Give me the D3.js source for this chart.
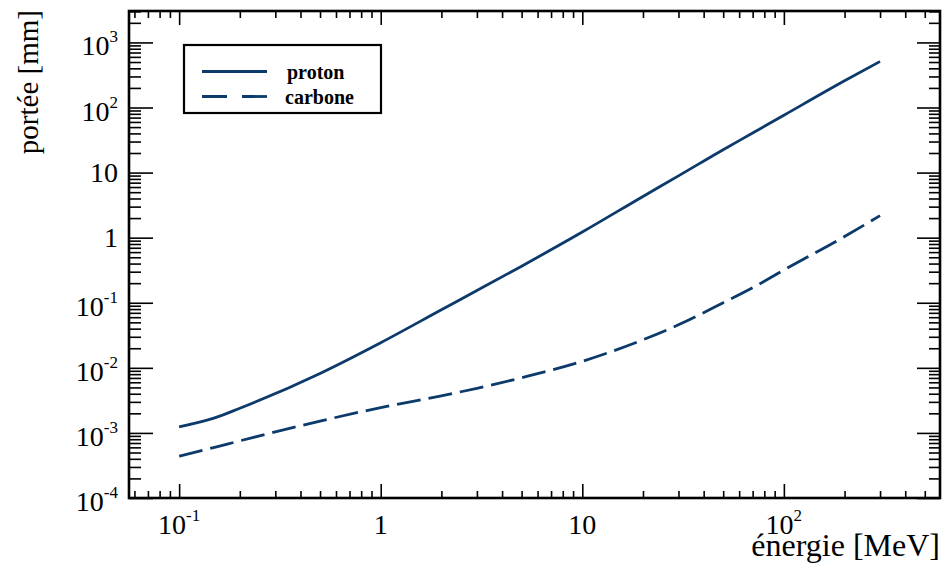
<!DOCTYPE html>
<html>
<head>
<meta charset="utf-8">
<script src="https://cdn.jsdelivr.net/npm/d3@7"></script>
<style>
  body { margin: 0; background: #fff; }
  svg { display: block; }
  text { font-family: "Liberation Serif", "DejaVu Serif", serif; fill: #000; }
</style>
</head>
<body>
<svg id="chart" width="947" height="579"></svg>
<script>
// energie [MeV] et portée [mm]
var energies = [0.1, 0.15, 0.2, 0.5, 1, 2, 3, 5, 10, 20, 30, 50, 70, 100, 200, 300];
var protonRange = [1.24e-3, 1.7e-3, 2.39e-3, 8.2e-3, 0.0243, 0.078, 0.154, 0.365, 1.22, 4.3, 8.9, 22.5, 40.5, 76, 257, 510];
var carbonRange = [4.4e-4, 6.0e-4, 7.55e-4, 1.52e-3, 2.45e-3, 3.72e-3, 4.84e-3, 7.05e-3, 0.0126, 0.027, 0.0458, 0.1, 0.17, 0.319, 1.04, 2.18];

var xMajor = [0.1, 1, 10, 100];
var xLabels = [["10", "-1"], ["1", ""], ["10", ""], ["10", "2"]];
var yMajor = [1e-4, 1e-3, 1e-2, 1e-1, 1, 10, 100, 1000];
var yLabels = [["10", "-4"], ["10", "-3"], ["10", "-2"], ["10", "-1"], ["1", ""], ["10", ""], ["10", "2"], ["10", "3"]];

var seriesNames = ["proton", "carbone"];
var lineColor = "#0c3a6b";

function drawChart() {
    var svg = d3.select("#chart");
    var pLeft = 129, pRight = 940, pTop = 11, pBottom = 498;

    var x = d3.scaleLog().domain([0.0564, 595]).range([pLeft, pRight]);
    var y = d3.scaleLog().domain([1e-4, 3040]).range([pBottom, pTop]);

    function minors(scale) {
        var d = scale.domain(), out = [];
        for (var p = Math.floor(Math.log10(d[0])); p <= Math.ceil(Math.log10(d[1])); p++) {
            for (var k = 2; k <= 9; k++) {
                var v = k * Math.pow(10, p);
                if (v > d[0] && v < d[1]) out.push(v);
            }
        }
        return out;
    }

    // ticks vers l'intérieur sur les quatre côtés
    function drawAxis(axisFn, scale, values, size, tr) {
        svg.append("g")
            .attr("transform", tr)
            .call(axisFn(scale).tickValues(values).tickSize(size).tickFormat(""))
            .call(g => g.select(".domain").remove())
            .call(g => g.selectAll("line").attr("stroke", "#000").attr("stroke-width", 1.6));
    }
    drawAxis(d3.axisBottom, x, xMajor, -14, "translate(0," + pBottom + ")");
    drawAxis(d3.axisBottom, x, minors(x), -7, "translate(0," + pBottom + ")");
    drawAxis(d3.axisTop, x, xMajor, -14, "translate(0," + pTop + ")");
    drawAxis(d3.axisTop, x, minors(x), -7, "translate(0," + pTop + ")");
    drawAxis(d3.axisLeft, y, yMajor, -24, "translate(" + pLeft + ",0)");
    drawAxis(d3.axisLeft, y, minors(y), -12, "translate(" + pLeft + ",0)");
    drawAxis(d3.axisRight, y, yMajor, -23, "translate(" + pRight + ",0)");
    drawAxis(d3.axisRight, y, minors(y), -11, "translate(" + pRight + ",0)");

    svg.append("rect")
        .attr("x", pLeft).attr("y", pTop)
        .attr("width", pRight - pLeft).attr("height", pBottom - pTop)
        .attr("fill", "none").attr("stroke", "#000").attr("stroke-width", 2.6);

    // étiquettes avec exposants
    function label(txt, px, py, anchor) {
        var t = svg.append("text")
            .attr("x", px).attr("y", py)
            .attr("text-anchor", anchor)
            .style("font-size", "28px");
        t.append("tspan").text(txt[0]);
        if (txt[1] != "") {
            t.append("tspan").attr("dy", -13).style("font-size", "17px").text(txt[1]);
        }
    }
    xMajor.forEach((v, i) => label(xLabels[i], x(v), 534, "middle"));
    yMajor.forEach((v, i) => label(yLabels[i], 118, y(v) + (yLabels[i][1] != "" ? 13 : 9), "end"));

    svg.append("text")
        .attr("transform", "translate(38,10) rotate(-90)")
        .attr("text-anchor", "end")
        .style("font-size", "29px")
        .text("portée [mm]");

    svg.append("text")
        .attr("x", 940).attr("y", 556)
        .attr("text-anchor", "end")
        .style("font-size", "32px")
        .text("énergie [MeV]");

    var line = d3.line()
        .x(d => x(d[0]))
        .y(d => y(d[1]))
        .curve(d3.curveMonotoneX);

    svg.append("path")
        .datum(energies.map((e, i) => [e, protonRange[i]]))
        .attr("d", line)
        .attr("fill", "none").attr("stroke", lineColor).attr("stroke-width", 2.8);

    svg.append("path")
        .datum(energies.map((e, i) => [e, carbonRange[i]]))
        .attr("d", line)
        .attr("fill", "none").attr("stroke", lineColor).attr("stroke-width", 2.8)
        .attr("stroke-dasharray", "24,8");

    // légende
    var legend = svg.append("g");
    legend.append("rect")
        .attr("x", 184).attr("y", 45).attr("width", 197).attr("height", 68)
        .attr("fill", "#fff").attr("stroke", "#000").attr("stroke-width", 2.2);
    seriesNames.forEach((name, i) => {
        var ly = 71.5 + i * 25;
        legend.append("line")
            .attr("x1", 202).attr("x2", 267).attr("y1", ly).attr("y2", ly)
            .attr("stroke", lineColor).attr("stroke-width", 2.8)
            .attr("stroke-dasharray", i == 0 ? null : "25,15");
        legend.append("text")
            .attr("x", i == 0 ? 287 : 285).attr("y", ly + 7)
            .style("font-size", "20px").style("font-weight", "bold")
            .text(name);
    });
}

drawChart();
</script>
</body>
</html>
